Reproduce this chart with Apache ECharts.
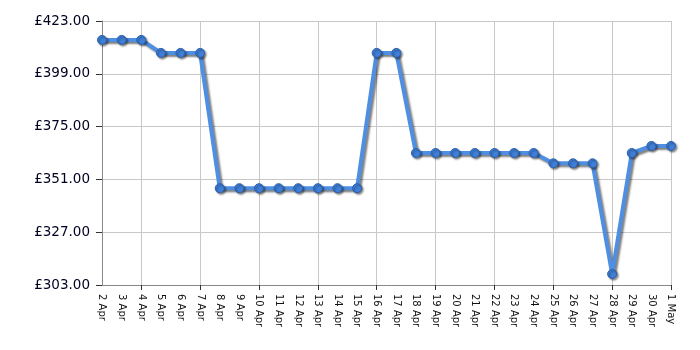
<!DOCTYPE html>
<html><head><meta charset="utf-8">
<script src="https://cdn.jsdelivr.net/npm/echarts@6/dist/echarts.min.js"></script>
<style>html,body{margin:0;padding:0;background:#fff}#c{width:700px;height:350px}</style>
</head><body><div id="c"></div>
<script>
const categories = ['2 Apr','3 Apr','4 Apr','5 Apr','6 Apr','7 Apr','8 Apr','9 Apr','10 Apr','11 Apr','12 Apr','13 Apr','14 Apr','15 Apr','16 Apr','17 Apr','18 Apr','19 Apr','20 Apr','21 Apr','22 Apr','23 Apr','24 Apr','25 Apr','26 Apr','27 Apr','28 Apr','29 Apr','30 Apr','1 May'];
const prices = [414.4,414.4,414.4,408.5,408.5,408.5,347,347,347,347,347,347,347,347,408.5,408.5,363,363,363,363,363,363,363,358.3,358.3,358.3,308,363,366.2,366.2];
const yTicks = [303,327,351,375,399,423];

const chart = echarts.init(document.getElementById('c'));
chart.setOption({
  animation:false,
  grid:{left:102,right:29,top:21,bottom:65},
  xAxis:{
    type:'category', data:categories, boundaryGap:false,
    axisLine:{lineStyle:{color:'#888',width:1}},
    axisTick:{show:true,length:5,lineStyle:{color:'#333'},interval:(i)=>i%3===2},
    splitLine:{show:true,interval:(i)=>i%3===2,lineStyle:{color:'#c8c8c8',width:1}},
    axisLabel:{rotate:-90,interval:0,fontFamily:'DejaVu Sans',fontSize:10,color:'#111',margin:9}
  },
  yAxis:{
    type:'value', min:303, max:423,
    axisLine:{show:true,lineStyle:{color:'#888',width:1}},
    axisTick:{show:true,length:6,lineStyle:{color:'#333'},customValues:yTicks},
    splitLine:{show:true,lineStyle:{color:'#c8c8c8',width:1}},
    axisLabel:{customValues:yTicks,fontFamily:'DejaVu Sans',fontSize:13.5,color:'#000022',margin:12,
      formatter:(v)=>'£'+Number(v).toFixed(2)}
  },
  series:[{
    type:'line', data:prices, symbol:'circle', symbolSize:9,
    lineStyle:{color:'#4f8fe2',width:4,shadowColor:'rgba(0,0,0,0.5)',shadowBlur:2,shadowOffsetX:2,shadowOffsetY:2},
    itemStyle:{color:'#3f7fd8',borderColor:'#2d62ae',borderWidth:1,shadowColor:'rgba(0,0,0,0.45)',shadowBlur:2,shadowOffsetX:1.5,shadowOffsetY:1.5}
  }]
});
</script></body></html>
